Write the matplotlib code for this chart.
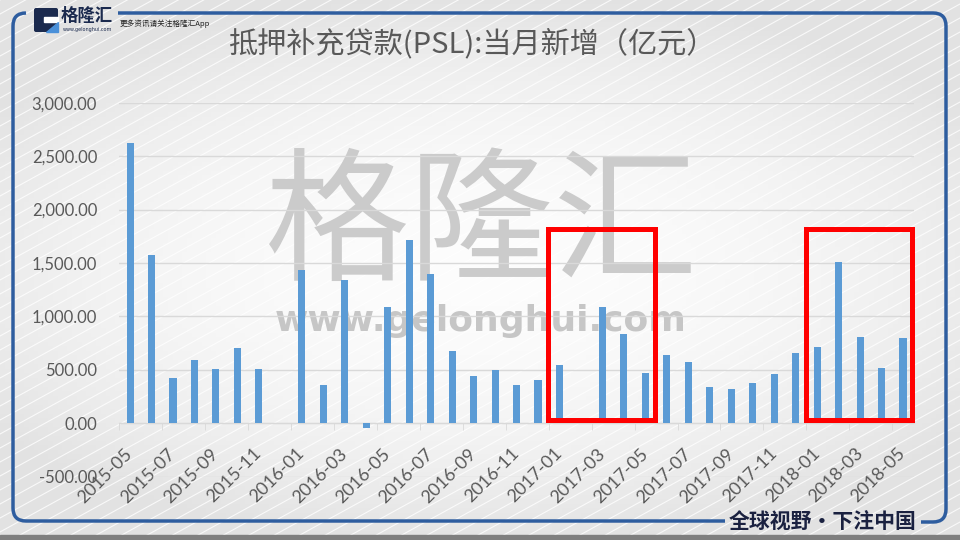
import matplotlib.pyplot as plt
import numpy as np
from matplotlib.path import Path
from matplotlib.patches import PathPatch, Rectangle, FancyBboxPatch, Polygon

# monthly new PSL, 100 million yuan
months = ['2015-05', '2015-06', '2015-07', '2015-08', '2015-09', '2015-10', '2015-11', '2015-12',
          '2016-01', '2016-02', '2016-03', '2016-04', '2016-05', '2016-06', '2016-07', '2016-08',
          '2016-09', '2016-10', '2016-11', '2016-12',
          '2017-01', '2017-02', '2017-03', '2017-04', '2017-05', '2017-06', '2017-07', '2017-08',
          '2017-09', '2017-10', '2017-11', '2017-12',
          '2018-01', '2018-02', '2018-03', '2018-04', '2018-05']
psl = [2625, 1576, 427, 596, 511, 702, 511, 0,
       1436, 356, 1342, -40, 1089, 1719, 1395, 680,
       440, 499, 356, 405,
       543, 0, 1089, 836, 471, 637, 574, 343,
       321, 374, 459, 658,
       712, 1510, 805, 521, 796]

# highlighted periods (red boxes)
highlights = [('2017-01', '2017-05'), ('2018-01', '2018-05')]

title = '抵押补充贷款(PSL):当月新增（亿元）'
cjk = ['Noto Sans CJK SC', 'DejaVu Sans']
navy = '#1B2A4E'
frame_blue = '#2E5D9F'

fig = plt.figure(figsize=(9.6, 5.4), dpi=100)

# ---- background layer in pixel coords ----
bg = fig.add_axes([0, 0, 1, 1], zorder=0)
bg.set_xlim(0, 960)
bg.set_ylim(540, 0)
bg.axis('off')

gx, gy = np.meshgrid(np.linspace(-1, 1, 200), np.linspace(-1, 1, 120))
r = np.sqrt((gx * 0.9) ** 2 + (gy * 1.1) ** 2)
shade = np.clip(0.99 - 0.08 * r ** 2, 0.89, 1)
bg.imshow(np.dstack([shade, shade, shade]), extent=[0, 960, 540, 0], aspect='auto', zorder=0)

# faint diagonal stripes
for c in np.arange(0, 540 + 0.55 * 960, 14):
    bg.plot([0, 960], [c, c - 0.55 * 960], color='white', lw=0.8, alpha=0.8, zorder=1)

# bottom grey band
bg.add_patch(Rectangle((0, 535), 960, 5, color='#7F7F7F', zorder=2))

# frame
V = [(26, 13), (13, 13), (13, 26), (13, 508), (13, 521), (26, 521), (725, 521)]
C = [Path.MOVETO, Path.CURVE3, Path.CURVE3, Path.LINETO, Path.CURVE3, Path.CURVE3, Path.LINETO]
bg.add_patch(PathPatch(Path(V, C), fill=False, ec=frame_blue, lw=2.5, zorder=3))
V = [(118, 13), (933, 13), (946, 13), (946, 26), (946, 509), (946, 522), (933, 522), (921, 522)]
C = [Path.MOVETO, Path.LINETO, Path.CURVE3, Path.CURVE3, Path.LINETO, Path.CURVE3, Path.CURVE3, Path.LINETO]
bg.add_patch(PathPatch(Path(V, C), fill=False, ec=frame_blue, lw=2.5, zorder=3))

# logo
bg.add_patch(FancyBboxPatch((34, 8), 24, 24, boxstyle='round,pad=0,rounding_size=2',
                            fc=navy, ec='none', zorder=4))
bg.add_patch(Rectangle((44, 17), 14, 5, color='white', zorder=5))
bg.add_patch(Polygon([(46, 32), (58, 32), (58, 22)], closed=True, color='#4A90D9', zorder=5))
bg.text(61, 16, '格隆汇', family=cjk, fontsize=12.5, fontweight='bold', color=navy,
        ha='left', va='center', zorder=5)
bg.text(63, 29, 'www.gelonghui.com', fontsize=3.5, color=navy, ha='left', va='center', zorder=5)
bg.text(120, 24, '更多资讯请关注格隆汇App', family=cjk, fontsize=5.5, color='#222222',
        ha='left', va='center', zorder=5)

# watermark
bg.text(482, 228, '格隆汇', family=cjk, fontsize=104, color='#CBCBCB',
        ha='center', va='center', zorder=4)
bg.text(481, 321, 'www.gelonghui.com', family='DejaVu Sans', fontsize=26, fontweight='bold',
        color='#C6C6C6', ha='center', va='center', zorder=4)

# title and slogan
bg.text(472, 44, title, family=cjk, fontsize=21, fontweight='light', color='#595959',
        ha='center', va='center', zorder=5)
bg.text(823, 521, '全球视野・下注中国', family=cjk, fontsize=15, fontweight='black',
        color='#1A2140', ha='center', va='center', zorder=5)

# ---- chart ----
ax = fig.add_axes([0.1243, 0.1172, 0.8275, 0.6926], zorder=2)
ax.set_facecolor('none')
x = np.arange(len(months))
ax.bar(x, psl, width=0.33, color='#5B9BD5', zorder=3)

ax.set_xlim(-0.5, len(months) - 0.5)
ax.set_ylim(-500, 3000)
ax.set_yticks(np.arange(-500, 3001, 500))
ax.set_yticklabels([f'{v:,.2f}' for v in np.arange(-500, 3001, 500)])
ax.yaxis.grid(True, color='#D9D9D9', lw=1)
ax.set_axisbelow(True)

for s in ['left', 'right', 'top']:
    ax.spines[s].set_visible(False)
ax.spines['bottom'].set_position(('data', 0))
ax.spines['bottom'].set_color('#D9D9D9')

ax.set_xticks(x[::2])
ax.set_xticklabels(months[::2], rotation=45, ha='right', va='center', rotation_mode='anchor')
ax.set_xticks(np.arange(-0.5, len(months), 2), minor=True)
ax.tick_params(axis='x', which='major', length=0, pad=20, labelsize=13, labelcolor='#595959')
ax.tick_params(axis='x', which='minor', length=5, color='#D9D9D9')
ax.tick_params(axis='y', length=0, pad=16, labelsize=12, labelcolor='#595959')
for lab in ax.get_xticklabels() + ax.get_yticklabels():
    lab.set_family('Lato')

# red highlight boxes
for a, b in highlights:
    i0, i1 = months.index(a), months.index(b)
    ax.add_patch(Rectangle((i0 - 0.52, 30), (i1 + 0.44) - (i0 - 0.52), 1785, fill=False,
                           ec='#FF0000', lw=3.6, zorder=5, clip_on=False))

fig.savefig('out.png', dpi=100)
